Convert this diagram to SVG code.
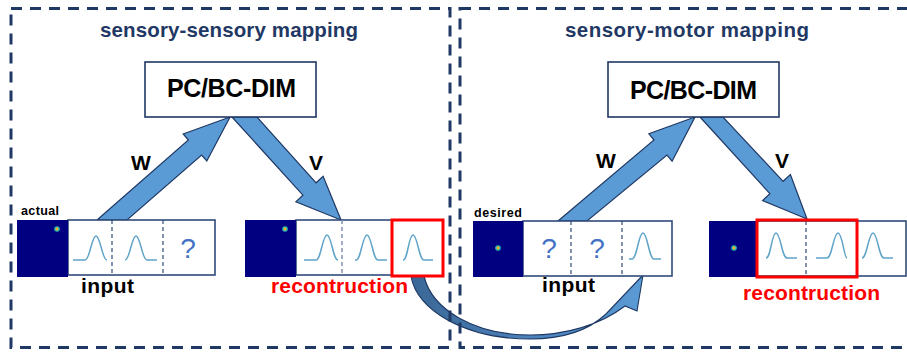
<svg xmlns="http://www.w3.org/2000/svg" width="907" height="354" viewBox="0 0 907 354">
  <defs>
    <style>
      .title { font-family: "Liberation Sans", Arial, sans-serif; font-weight: bold; font-size: 20.5px; fill: #1f3864; }
      .pc { font-family: "Liberation Sans", Arial, sans-serif; font-weight: bold; font-size: 25px; fill: #000; }
      .lbl { font-family: "Liberation Sans", Arial, sans-serif; font-weight: bold; font-size: 21px; fill: #000; }
      .small { font-family: "Liberation Sans", Arial, sans-serif; font-weight: bold; font-size: 12.5px; fill: #000; }
      .red { font-family: "Liberation Sans", Arial, sans-serif; font-weight: bold; font-size: 21px; fill: #ff0000; }
      .q { font-family: "Liberation Sans", Arial, sans-serif; font-size: 28px; fill: #4472c4; text-anchor: middle; }
      .frame { fill: none; stroke: #1f3864; stroke-width: 3; stroke-dasharray: 11 8; }
      .pcbox { fill: #fff; stroke: #203864; stroke-width: 1.6; }
      .block { fill: #5b9bd5; stroke: #1f3864; stroke-width: 1.2; stroke-linejoin: miter; }
      .navy { fill: #000080; }
      .cells { fill: #fff; stroke: #2f4a7a; stroke-width: 1.6; }
      .div { stroke: #2f4a7a; stroke-width: 1.2; stroke-dasharray: 4 3; }
      .divsoft { stroke: #7a88aa; stroke-width: 1.4; stroke-dasharray: 4 3; }
      .hl { fill: none; stroke: #ff0000; stroke-width: 3; }
      .gauss { fill: none; stroke: #5ea3c8; stroke-width: 1.5; }
    </style>
    <linearGradient id="curveFill" x1="0" y1="0" x2="1" y2="0">
      <stop offset="0" stop-color="#3a6796"/>
      <stop offset="0.6" stop-color="#4f86c0"/>
      <stop offset="1" stop-color="#5b9bd5"/>
    </linearGradient>
    <g id="dot">
      <circle r="2.8" fill="#2fb8b0"/>
      <circle r="1.4" fill="#ffb020"/>
    </g>
  </defs>

  <rect width="907" height="354" fill="#fff"/>

  <!-- connectors -->
  <g id="connectors">
    <!-- left panel: W up, V down -->
    <polygon class="block" points="97,220 188.4,140 183.2,134 230,117 206.8,161 201.6,155 127,220"/>
    <polygon class="block" points="232,117 302.9,195.2 295.9,201.8 341,220 323.1,176.2 316.1,182.8 257,117"/>
    <!-- right panel: W up, V down -->
    <polygon class="block" points="558,221 654,140 648.9,133.8 695,117 672.1,161.2 667,155 587,221"/>
    <polygon class="block" points="700,117 769.9,193.7 762.6,200.5 807,219 790.4,174.5 783.1,181.3 723,117"/>
    <!-- reconstruction fed back as input -->
    <path d="M 411,276 C 416,310 465,339 530,339 C 566,339 590,329 606,314 L 643,275 L 637,311 L 625,306 C 600,325 566,335 530,335 C 475,335 432,310 424,276 Z" fill="url(#curveFill)" stroke="#1f3864" stroke-width="1.1"/>
  </g>

  <!-- panel frames -->
  <rect class="frame" x="11" y="8.5" width="439" height="339"/>
  <rect class="frame" x="460" y="8.5" width="460" height="339"/>

  <text class="title" x="100" y="37" textLength="258">sensory-sensory mapping</text>
  <text class="title" x="565" y="37" textLength="244">sensory-motor mapping</text>

  <!-- left panel -->
  <g id="pc-left">
    <rect class="pcbox" x="145" y="62" width="171" height="55"/>
    <text class="pc" x="167" y="97" textLength="129">PC/BC-DIM</text>
  </g>
  <text class="lbl" x="131" y="170">W</text>
  <text class="lbl" x="309" y="170">V</text>

  <g id="input-left">
    <rect class="cells" x="68" y="220" width="147" height="55"/>
    <line class="div" x1="112" y1="220" x2="112" y2="275"/>
    <line class="div" x1="163" y1="220" x2="163" y2="275"/>
    <rect class="navy" x="17" y="220" width="51" height="57"/>
    <use href="#dot" x="57" y="229"/>
    <path class="gauss" d="M73,260 L85,260 C90,260 91.5,236 96,236 C100.5,236 102,260 107,260"/>
    <path class="gauss" d="M125,260 C130,260 131.5,236 136,236 C140.5,236 142,260 147,260 L157,260"/>
    <text class="q" x="188" y="258">?</text>
    <text class="small" x="21" y="215" textLength="38">actual</text>
    <text class="lbl" x="81" y="293" textLength="53">input</text>
  </g>

  <g id="recon-left">
    <rect class="cells" x="296" y="220" width="96" height="55"/>
    <line class="divsoft" x1="342" y1="220" x2="342" y2="275"/>
    <rect class="navy" x="245" y="220" width="51" height="57"/>
    <use href="#dot" x="285" y="229"/>
    <path class="gauss" d="M304,260 L316,260 C321,260 322.5,235 327,235 C331.5,235 333,260 338,260"/>
    <path class="gauss" d="M355,260 L356,260 C361,260 362.5,235 367,235 C371.5,235 373,260 378,260 L387,260"/>
    <rect x="392" y="220" width="51" height="56" fill="#fff"/>
    <path class="gauss" d="M403,260 C408,260 408.5,235 413,235 C417.5,235 419,260 424,260 L433,260"/>
    <rect class="hl" x="392" y="220" width="51" height="56"/>
    <text class="red" x="271" y="293" textLength="137">recontruction</text>
  </g>

  <!-- right panel -->
  <g id="pc-right">
    <rect class="pcbox" x="608" y="62" width="171" height="55"/>
    <text class="pc" x="630" y="99" textLength="127">PC/BC-DIM</text>
  </g>
  <text class="lbl" x="596" y="168">W</text>
  <text class="lbl" x="775" y="168">V</text>

  <g id="input-right">
    <rect class="cells" x="523" y="221" width="149" height="55"/>
    <line class="div" x1="571" y1="221" x2="571" y2="276"/>
    <line class="div" x1="622" y1="221" x2="622" y2="276"/>
    <rect class="navy" x="473" y="221" width="50" height="56"/>
    <use href="#dot" x="498" y="248"/>
    <text class="q" x="549" y="258">?</text>
    <text class="q" x="597" y="258">?</text>
    <path class="gauss" d="M629,259 L632,259 C637,259 638.5,233 643,233 C647.5,233 649,259 654,259 L661,259"/>
    <text class="small" x="474" y="217" textLength="48">desired</text>
    <text class="lbl" x="542" y="292" textLength="53">input</text>
  </g>

  <g id="recon-right">
    <rect class="cells" x="757" y="221" width="149" height="55"/>
    <rect class="navy" x="709" y="221" width="48" height="56"/>
    <use href="#dot" x="734" y="248"/>
    <line class="div" x1="806" y1="221" x2="806" y2="276"/>
    <path class="gauss" d="M766,258 C771,258 771.5,233 776,233 C780.5,233 782,258 787,258 L797,258"/>
    <path class="gauss" d="M816,258 L827,258 C832,258 833.5,233 838,233 C842.5,233 844,258 847,258"/>
    <path class="gauss" d="M862,258 C867,258 868.5,233 873,233 C877.5,233 879,258 884,258 L893,258"/>
    <rect class="hl" x="757" y="220" width="100" height="57"/>
    <text class="red" x="743" y="300" textLength="137">recontruction</text>
  </g>
</svg>
